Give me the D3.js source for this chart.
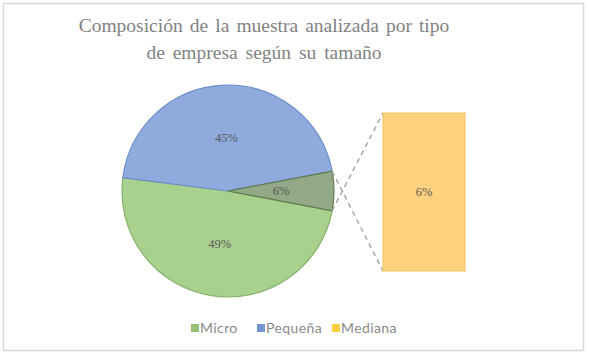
<!DOCTYPE html>
<html>
<head>
<meta charset="utf-8">
<script src="https://cdn.jsdelivr.net/npm/d3@7"></script>
<style>
  body { margin: 0; background: #fff; }
  svg { display: block; }
</style>
</head>
<body>
<svg width="589" height="357"></svg>
<script>
// datos
let categories = ["Micro", "Pequeña", "Mediana"],
    values = [49, 45, 6],
    colors = ["#a9d18e", "#8faadc", "#ffd27f"],
    edges = ["#86b168", "#6d8dcb", "#f2bf5c"],
    titleLines = ["Composición de la muestra analizada por tipo", "de empresa según su tamaño"];

let svg = d3.select("svg");

// marco
svg.append("rect")
    .attr("x", 3.5).attr("y", 3.5)
    .attr("width", 580).attr("height", 347)
    .attr("fill", "#fff")
    .attr("stroke", "#d9d9d9")
    .attr("stroke-width", 1.5);

// titulo
svg.append("g").selectAll("text")
    .data(titleLines)
    .join("text")
    .attr("x", 264)
    .attr("y", (d, i) => 32 + i * 27)
    .attr("text-anchor", "middle")
    .attr("font-family", "Liberation Serif, serif")
    .attr("font-size", 19.5)
    .attr("word-spacing", (d, i) => i ? 3 : 2.2)
    .attr("fill", "#828282")
    .text(d => d);

let cx = 228, cy = 191, r = 106;
let total = d3.sum(values);
let other = values[2];
let start = Math.PI / 2 + Math.PI * other / total;

// la porcion "otros" junta la ultima categoria
let pie = d3.pie().sort(null).startAngle(start).endAngle(start + 2 * Math.PI);
let arcs = pie(values);
let arc = d3.arc().innerRadius(0).outerRadius(r);
let labelArc = d3.arc().innerRadius(r * 0.5).outerRadius(r * 0.5);

let g = svg.append("g").attr("transform", `translate(${cx},${cy})`);

g.selectAll("path")
    .data(arcs)
    .join("path")
    .attr("d", arc)
    .attr("fill", (d, i) => i === 2 ? "#93a886" : colors[i])
    .attr("stroke", (d, i) => i === 2 ? "#5f7a50" : edges[i])
    .attr("stroke-width", 1.2);

g.selectAll("text")
    .data(arcs)
    .join("text")
    .attr("transform", d => `translate(${labelArc.centroid(d)})`)
    .attr("dy", "0.35em")
    .attr("text-anchor", "middle")
    .attr("font-family", "Liberation Serif, serif")
    .attr("font-size", 12.5)
    .attr("fill", "#595959")
    .text(d => Math.round(d.data / total * 100) + "%");

// barra del desglose
let barX = 383, barW = 82;
let y = d3.scaleLinear().domain([0, other]).range([271, 113]);

let o = arcs[2];
let p1 = [cx + r * Math.sin(o.startAngle), cy - r * Math.cos(o.startAngle)],
    p2 = [cx + r * Math.sin(o.endAngle), cy - r * Math.cos(o.endAngle)];

svg.append("g").selectAll("line")
    .data([[p2, [barX, y(other)]], [p1, [barX, y(0)]]])
    .join("line")
    .attr("x1", d => d[0][0]).attr("y1", d => d[0][1])
    .attr("x2", d => d[1][0]).attr("y2", d => d[1][1])
    .attr("stroke", "#a6a6a6")
    .attr("stroke-width", 1.5)
    .attr("stroke-dasharray", "5 4");

svg.append("rect")
    .attr("x", barX)
    .attr("y", y(other))
    .attr("width", barW)
    .attr("height", y(0) - y(other))
    .attr("fill", colors[2])
    .attr("stroke", edges[2])
    .attr("stroke-width", 1);

svg.append("text")
    .attr("x", barX + barW / 2)
    .attr("y", (y(0) + y(other)) / 2)
    .attr("dy", "0.35em")
    .attr("text-anchor", "middle")
    .attr("font-family", "Liberation Serif, serif")
    .attr("font-size", 12.5)
    .attr("fill", "#595959")
    .text(Math.round(other / total * 100) + "%");

// leyenda
let legendX = [191, 257, 332];
let legend = svg.append("g").selectAll("g")
    .data(categories)
    .join("g")
    .attr("transform", (d, i) => `translate(${legendX[i]},328)`);

legend.append("rect")
    .attr("x", 0).attr("y", -4)
    .attr("width", 8).attr("height", 8)
    .attr("fill", (d, i) => i === 0 ? "#70ad47" : i === 1 ? "#4472c4" : "#ffc000")
    .attr("opacity", 0.75);

legend.append("text")
    .attr("x", 9)
    .attr("dy", "0.35em")
    .attr("font-family", "Lato, sans-serif")
    .attr("font-size", 14)
    .attr("letter-spacing", 0.4)
    .attr("fill", "#8a8a8a")
    .text(d => d);
</script>
</body>
</html>
